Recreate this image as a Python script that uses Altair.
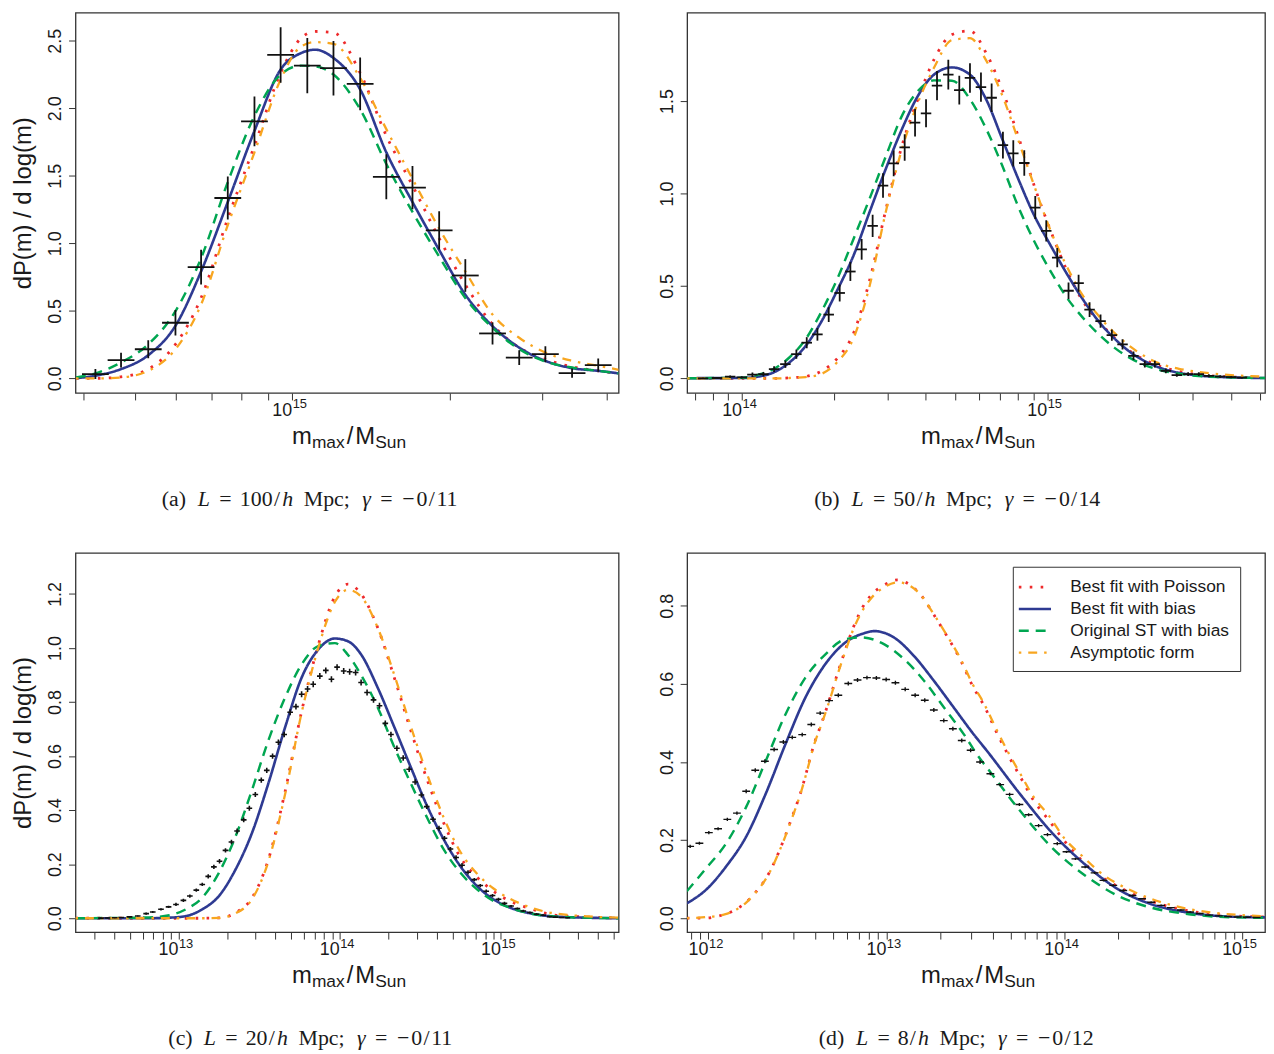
import altair as alt
import pandas as pd

SANS = "Liberation Sans"
SERIF = "Liberation Serif"
TXT = "#1a1a1a"
AXC = "#333333"
INK = "#111111"

SERIES = ["Best fit with Poisson", "Best fit with bias", "Original ST with bias", "Asymptotic form"]
COLORS = ["#ee2a2b", "#2e3a92", "#00a651", "#f8a620"]
DASHES = [[2.6, 8.4], [1, 0], [10, 7], [2.5, 7, 9, 7]]
WIDTHS = [2.8, 2.3, 2.5, 2.5]

# ---------------- panel (a): L = 100/h Mpc ----------------
a_grid = [14.587, 14.624, 14.673, 14.725, 14.777, 14.826, 14.877, 14.928, 14.978, 15.017, 15.044, 15.079,
          15.130, 15.180, 15.230, 15.281, 15.331, 15.383, 15.434, 15.484, 15.535, 15.585, 15.624]
a_poisson = [0.000, 0.000, 0.012, 0.069, 0.252, 0.596, 1.184, 1.723, 2.262, 2.520, 2.569, 2.561,
             2.262, 1.797, 1.429, 1.037, 0.694, 0.400, 0.228, 0.142, 0.086, 0.056, 0.037]
a_bias = [0.002, 0.020, 0.069, 0.172, 0.390, 0.792, 1.306, 1.833, 2.287, 2.409, 2.434, 2.373,
          2.140, 1.674, 1.306, 0.951, 0.620, 0.387, 0.228, 0.130, 0.076, 0.056, 0.037]
a_st = [0.007, 0.037, 0.118, 0.252, 0.498, 0.890, 1.453, 1.944, 2.250, 2.316, 2.311, 2.250,
        1.993, 1.588, 1.233, 0.902, 0.596, 0.375, 0.216, 0.125, 0.081, 0.056, 0.037]
a_asym = [0.000, 0.000, 0.007, 0.056, 0.216, 0.547, 1.135, 1.674, 2.213, 2.458, 2.490, 2.478,
          2.225, 1.846, 1.478, 1.110, 0.792, 0.473, 0.301, 0.191, 0.130, 0.093, 0.064]
a_pts_logm = [14.624, 14.673, 14.725, 14.777, 14.826, 14.877, 14.928, 14.978, 15.029, 15.079,
              15.130, 15.180, 15.230, 15.281, 15.331, 15.383, 15.434, 15.484, 15.535, 15.585]
a_pts_val = [0.032, 0.135, 0.216, 0.412, 0.824, 1.336, 1.904, 2.395, 2.316, 2.297,
             2.181, 1.493, 1.412, 1.096, 0.762, 0.333, 0.154, 0.179, 0.039, 0.098]
a_pts_err = [0.037, 0.055, 0.067, 0.094, 0.129, 0.159, 0.184, 0.206, 0.205, 0.202,
             0.196, 0.167, 0.160, 0.142, 0.121, 0.082, 0.055, 0.060, 0.035, 0.049]

# ---------------- panel (b): L = 50/h Mpc ----------------
b_grid = [13.820, 14.000, 14.050, 14.103, 14.155, 14.208, 14.261, 14.313, 14.366, 14.418, 14.471, 14.524,
          14.576, 14.629, 14.688, 14.747, 14.800, 14.853, 14.905, 14.958, 15.011, 15.063, 15.116, 15.168,
          15.221, 15.274, 15.326, 15.379, 15.432, 15.497, 15.563, 15.714]
b_poisson = [0.000, 0.000, 0.000, 0.000, 0.003, 0.010, 0.040, 0.110, 0.247, 0.530, 0.910, 1.258,
             1.509, 1.724, 1.860, 1.880, 1.760, 1.560, 1.310, 1.040, 0.800, 0.590, 0.420, 0.310,
             0.220, 0.145, 0.095, 0.060, 0.038, 0.020, 0.011, 0.003]
b_bias = [0.001, 0.002, 0.009, 0.032, 0.086, 0.175, 0.310, 0.480, 0.667, 0.900, 1.133, 1.348,
          1.527, 1.643, 1.682, 1.643, 1.509, 1.294, 1.080, 0.880, 0.720, 0.570, 0.430, 0.310,
          0.215, 0.140, 0.088, 0.052, 0.030, 0.015, 0.008, 0.002]
b_st = [0.001, 0.003, 0.018, 0.050, 0.113, 0.211, 0.363, 0.542, 0.757, 0.972, 1.200, 1.420,
        1.554, 1.612, 1.610, 1.510, 1.350, 1.150, 0.930, 0.740, 0.580, 0.440, 0.330, 0.240,
        0.165, 0.108, 0.068, 0.041, 0.025, 0.013, 0.007, 0.002]
b_asym = [0.000, 0.000, 0.000, 0.000, 0.002, 0.007, 0.025, 0.090, 0.220, 0.500, 0.900, 1.240,
          1.490, 1.680, 1.830, 1.840, 1.720, 1.530, 1.290, 1.040, 0.800, 0.610, 0.450, 0.340,
          0.245, 0.170, 0.114, 0.074, 0.052, 0.035, 0.023, 0.009]
b_pts_logm = [13.872, 13.918, 13.961, 13.999, 14.034, 14.070, 14.105, 14.142, 14.178, 14.212,
              14.247, 14.284, 14.320, 14.355, 14.392, 14.428, 14.462, 14.497, 14.533, 14.567,
              14.603, 14.639, 14.676, 14.712, 14.747, 14.783, 14.818, 14.855, 14.889, 14.925,
              14.961, 14.997, 15.033, 15.070, 15.103, 15.139, 15.175, 15.212, 15.247, 15.283,
              15.320, 15.353, 15.389, 15.425, 15.462, 15.497, 15.530, 15.567, 15.603, 15.638]
b_pts_val = [0.000, 0.002, 0.009, 0.005, 0.020, 0.023, 0.050, 0.077, 0.131, 0.193,
             0.238, 0.345, 0.462, 0.578, 0.698, 0.825, 1.043, 1.163, 1.249, 1.384,
             1.434, 1.584, 1.643, 1.559, 1.625, 1.575, 1.518, 1.262, 1.217, 1.165,
             0.924, 0.798, 0.653, 0.474, 0.515, 0.372, 0.310, 0.234, 0.184, 0.122,
             0.077, 0.077, 0.041, 0.018, 0.023, 0.023, 0.014, 0.010, 0.007, 0.004]
b_pts_err = [0.004, 0.005, 0.007, 0.006, 0.012, 0.012, 0.016, 0.020, 0.025, 0.030,
             0.034, 0.040, 0.046, 0.051, 0.056, 0.060, 0.066, 0.070, 0.072, 0.075,
             0.076, 0.079, 0.080, 0.078, 0.080, 0.079, 0.077, 0.072, 0.071, 0.069,
             0.062, 0.058, 0.052, 0.044, 0.046, 0.040, 0.036, 0.031, 0.028, 0.023,
             0.018, 0.018, 0.013, 0.009, 0.010, 0.010, 0.008, 0.007, 0.006, 0.004]

# ---------------- panel (c): L = 20/h Mpc ----------------
c_grid = [12.362, 12.820, 12.944, 13.046, 13.148, 13.251, 13.354, 13.456, 13.558, 13.662, 13.764, 13.867,
          13.970, 14.051, 14.133, 14.236, 14.339, 14.441, 14.544, 14.647, 14.749, 14.852, 14.954, 15.057,
          15.160, 15.344, 15.730]
c_poisson = [0.000, 0.000, 0.000, 0.000, 0.000, 0.001, 0.020, 0.075, 0.217, 0.470, 0.765, 1.010,
             1.190, 1.236, 1.200, 1.075, 0.890, 0.695, 0.510, 0.350, 0.225, 0.152, 0.100, 0.063,
             0.040, 0.011, 0.001]
c_bias = [0.000, 0.000, 0.002, 0.008, 0.033, 0.082, 0.180, 0.315, 0.499, 0.707, 0.890, 0.994,
          1.035, 1.025, 0.976, 0.853, 0.707, 0.559, 0.413, 0.290, 0.192, 0.119, 0.070, 0.039,
          0.021, 0.006, 0.000]
c_st = [0.000, 0.003, 0.011, 0.033, 0.076, 0.168, 0.302, 0.474, 0.658, 0.817, 0.939, 1.007,
        1.018, 0.975, 0.900, 0.780, 0.633, 0.499, 0.370, 0.253, 0.168, 0.107, 0.064, 0.039,
        0.021, 0.006, 0.000]
c_asym = [0.000, 0.000, 0.000, 0.000, 0.000, 0.001, 0.018, 0.070, 0.210, 0.460, 0.760, 1.000,
          1.170, 1.215, 1.190, 1.075, 0.900, 0.710, 0.530, 0.370, 0.245, 0.165, 0.110, 0.072,
          0.045, 0.017, 0.002]
c_pts_logm = [12.520, 12.560, 12.605, 12.646, 12.697, 12.748, 12.800, 12.841, 12.892, 12.939,
              12.985, 13.031, 13.071, 13.111, 13.148, 13.185, 13.220, 13.255, 13.292, 13.329,
              13.364, 13.405, 13.440, 13.477, 13.514, 13.548, 13.584, 13.620, 13.656, 13.693,
              13.729, 13.764, 13.801, 13.836, 13.877, 13.914, 13.949, 13.984, 14.025, 14.062,
              14.099, 14.133, 14.170, 14.210, 14.247, 14.283, 14.318, 14.355, 14.394, 14.431,
              14.468, 14.507, 14.540, 14.579, 14.616, 14.650, 14.687, 14.722, 14.759, 14.796,
              14.835, 14.872, 14.909, 14.948, 14.985, 15.022, 15.063, 15.102, 15.139, 15.180,
              15.221, 15.262, 15.303, 15.338, 15.375, 15.412]
c_pts_val = [0.0005, 0.001, 0.002, 0.003, 0.005, 0.008, 0.017, 0.023, 0.033, 0.042,
             0.051, 0.066, 0.082, 0.104, 0.125, 0.155, 0.190, 0.211, 0.251, 0.282,
             0.323, 0.364, 0.407, 0.458, 0.511, 0.547, 0.600, 0.651, 0.680, 0.762,
             0.783, 0.829, 0.848, 0.866, 0.896, 0.917, 0.884, 0.929, 0.915, 0.912,
             0.909, 0.872, 0.835, 0.808, 0.786, 0.721, 0.680, 0.629, 0.593, 0.551,
             0.504, 0.456, 0.413, 0.366, 0.333, 0.296, 0.256, 0.225, 0.196, 0.170,
             0.143, 0.121, 0.100, 0.084, 0.070, 0.055, 0.045, 0.036, 0.027, 0.021,
             0.015, 0.011, 0.006, 0.004, 0.003, 0.002]
c_pts_err = [0.002, 0.002, 0.002, 0.002, 0.002, 0.002, 0.004, 0.004, 0.004, 0.004,
             0.006, 0.006, 0.006, 0.006, 0.006, 0.008, 0.008, 0.008, 0.008, 0.008,
             0.009, 0.009, 0.009, 0.009, 0.010, 0.010, 0.010, 0.010, 0.010, 0.011,
             0.011, 0.011, 0.011, 0.011, 0.011, 0.011, 0.011, 0.011, 0.011, 0.011,
             0.011, 0.011, 0.011, 0.011, 0.011, 0.011, 0.010, 0.010, 0.010, 0.010,
             0.010, 0.009, 0.009, 0.009, 0.009, 0.008, 0.008, 0.008, 0.008, 0.008,
             0.006, 0.006, 0.006, 0.006, 0.006, 0.006, 0.004, 0.004, 0.004, 0.004,
             0.004, 0.004, 0.002, 0.002, 0.002, 0.002]

# ---------------- panel (d): L = 8/h Mpc ----------------
d_poisson_logm = [11.878, 11.962, 12.091, 12.156, 12.212, 12.258, 12.304, 12.341, 12.397, 12.434, 12.471,
                  12.517, 12.554, 12.591, 12.638, 12.684, 12.721, 12.767, 12.813, 12.869, 12.916, 12.989,
                  13.063, 13.137, 13.193, 13.267, 13.341, 13.415, 13.489, 13.545, 13.628, 13.693, 13.758,
                  13.823, 13.915, 13.989, 14.063, 14.147, 14.267, 14.378, 14.563, 14.711, 14.896, 15.129]
d_poisson = [0.000, 0.000, 0.010, 0.023, 0.041, 0.063, 0.089, 0.116, 0.171, 0.214, 0.260,
             0.320, 0.379, 0.442, 0.502, 0.565, 0.620, 0.684, 0.743, 0.798, 0.828, 0.853,
             0.866, 0.852, 0.828, 0.777, 0.722, 0.663, 0.591, 0.548, 0.468, 0.411, 0.358,
             0.305, 0.250, 0.205, 0.165, 0.127, 0.090, 0.064, 0.033, 0.018, 0.008, 0.003]
d_bias_logm = [11.878, 11.989, 12.100, 12.212, 12.323, 12.434, 12.545, 12.656, 12.767, 12.878, 12.934,
               13.045, 13.156, 13.267, 13.378, 13.489, 13.563, 13.748, 13.933, 14.119, 14.304, 14.489,
               14.674, 14.859, 15.129]
d_bias = [0.038, 0.074, 0.133, 0.209, 0.320, 0.447, 0.565, 0.650, 0.705, 0.730, 0.735,
          0.718, 0.671, 0.608, 0.540, 0.472, 0.430, 0.320, 0.218, 0.137, 0.074, 0.036,
          0.016, 0.006, 0.002]
d_st_logm = [11.878, 11.989, 12.100, 12.212, 12.323, 12.434, 12.545, 12.656, 12.767, 12.860, 12.989,
             13.100, 13.212, 13.323, 13.434, 13.527, 13.563, 13.748, 13.933, 14.119, 14.304, 14.489,
             14.674, 14.859, 15.129]
d_st = [0.069, 0.129, 0.192, 0.285, 0.404, 0.523, 0.616, 0.675, 0.714, 0.719, 0.701,
        0.663, 0.608, 0.540, 0.472, 0.408, 0.387, 0.277, 0.180, 0.109, 0.057, 0.027,
        0.012, 0.004, 0.001]
d_asym_logm = [11.878, 11.962, 12.091, 12.156, 12.212, 12.258, 12.304, 12.341, 12.397, 12.434, 12.471,
               12.517, 12.554, 12.591, 12.638, 12.684, 12.721, 12.767, 12.813, 12.869, 12.916, 12.989,
               13.063, 13.137, 13.193, 13.267, 13.341, 13.415, 13.489, 13.545, 13.628, 13.693, 13.758,
               13.823, 13.915, 14.000, 14.100, 14.200, 14.400, 14.600, 14.800, 15.000, 15.129]
d_asym = [0.000, 0.002, 0.010, 0.022, 0.040, 0.062, 0.088, 0.115, 0.170, 0.212, 0.258,
          0.318, 0.377, 0.440, 0.500, 0.562, 0.617, 0.680, 0.738, 0.790, 0.820, 0.848,
          0.860, 0.850, 0.828, 0.778, 0.724, 0.666, 0.596, 0.553, 0.475, 0.418, 0.366,
          0.314, 0.262, 0.205, 0.160, 0.118, 0.066, 0.034, 0.016, 0.008, 0.005]
d_pts_logm = [11.897, 11.949, 12.002, 12.054, 12.106, 12.160, 12.212, 12.263, 12.317, 12.369,
              12.421, 12.471, 12.527, 12.578, 12.628, 12.678, 12.730, 12.786, 12.838, 12.891,
              12.944, 12.999, 13.051, 13.106, 13.162, 13.216, 13.267, 13.323, 13.374, 13.424,
              13.474, 13.527, 13.585, 13.640, 13.693, 13.748, 13.800, 13.856, 13.906, 13.961,
              14.013, 14.063, 14.118, 14.171, 14.221, 14.276, 14.332, 14.384, 14.438, 14.489,
              14.545, 14.600, 14.656, 14.708, 14.762, 14.814, 14.869, 14.921, 14.975, 15.027,
              15.082]
d_pts_val = [0.184, 0.192, 0.219, 0.229, 0.253, 0.269, 0.325, 0.379, 0.402, 0.432,
             0.451, 0.463, 0.470, 0.496, 0.525, 0.557, 0.571, 0.601, 0.610, 0.616,
             0.615, 0.611, 0.603, 0.586, 0.571, 0.558, 0.533, 0.506, 0.485, 0.455,
             0.430, 0.400, 0.370, 0.342, 0.317, 0.291, 0.265, 0.237, 0.214, 0.191,
             0.170, 0.152, 0.131, 0.116, 0.097, 0.084, 0.071, 0.058, 0.050, 0.041,
             0.033, 0.027, 0.021, 0.016, 0.012, 0.008, 0.006, 0.004, 0.003, 0.0025,
             0.002]
d_pts_err = [0.004, 0.004, 0.004, 0.004, 0.004, 0.004, 0.005, 0.005, 0.005, 0.005,
             0.005, 0.005, 0.005, 0.005, 0.005, 0.005, 0.005, 0.005, 0.005, 0.005,
             0.005, 0.005, 0.005, 0.005, 0.005, 0.005, 0.005, 0.005, 0.005, 0.005,
             0.005, 0.005, 0.004, 0.004, 0.004, 0.004, 0.004, 0.004, 0.004, 0.004,
             0.003, 0.003, 0.003, 0.003, 0.003, 0.003, 0.003, 0.003, 0.002, 0.002,
             0.002, 0.002, 0.002, 0.002, 0.002, 0.001, 0.001, 0.001, 0.001, 0.001,
             0.001]

# tick positions (masses) and labelled decades
a_ticks = [k * 1e14 for k in range(4, 10)] + [1e15, 2e15, 3e15, 4e15]
b_ticks = [k * 1e13 for k in range(7, 10)] + [k * 1e14 for k in range(1, 10)] + [k * 1e15 for k in range(1, 6)]
c_ticks = ([k * 1e12 for k in range(3, 10)] + [k * 1e13 for k in range(1, 10)] +
           [k * 1e14 for k in range(1, 10)] + [k * 1e15 for k in range(1, 6)])
d_ticks = ([8e11, 9e11] + [k * 1e12 for k in range(1, 10)] + [k * 1e13 for k in range(1, 10)] +
           [k * 1e14 for k in range(1, 10)] + [1e15])

PANELS = [
    dict(curves=[(a_grid, a_poisson), (a_grid, a_bias), (a_grid, a_st), (a_grid, a_asym)],
         pts=(a_pts_logm, a_pts_val, a_pts_err), half=0.0256, ptw=1.8,
         xdom=(14.586, 15.624), ydom=(-0.108, 2.708), yticks=[0, 0.5, 1.0, 1.5, 2.0, 2.5],
         ticks=a_ticks, exps=[15], W=547, H=383, ytitle=True, legend=False,
         cap=("(a)", "100", "11"), capx=235),
    dict(curves=[(b_grid, b_poisson), (b_grid, b_bias), (b_grid, b_st), (b_grid, b_asym)],
         pts=(b_pts_logm, b_pts_val, b_pts_err), half=0.0172, ptw=1.8,
         xdom=(13.820, 15.714), ydom=(-0.079, 1.978), yticks=[0, 0.5, 1.0, 1.5],
         ticks=b_ticks, exps=[14, 15], W=582, H=383, ytitle=False, legend=False,
         cap=("(b)", "50", "14"), capx=271),
    dict(curves=[(c_grid, c_poisson), (c_grid, c_bias), (c_grid, c_st), (c_grid, c_asym)],
         pts=(c_pts_logm, c_pts_val, c_pts_err), half=0.0175, ptw=1.6,
         xdom=(12.362, 15.730), ydom=(-0.0514, 1.352), yticks=[0, 0.2, 0.4, 0.6, 0.8, 1.0, 1.2],
         ticks=c_ticks, exps=[13, 14, 15], W=547, H=382, ytitle=True, legend=False,
         cap=("(c)", "20", "11"), capx=236),
    dict(curves=[(d_poisson_logm, d_poisson), (d_bias_logm, d_bias), (d_st_logm, d_st), (d_asym_logm, d_asym)],
         pts=(d_pts_logm, d_pts_val, d_pts_err), half=0.022, ptw=1.4,
         xdom=(11.880, 15.129), ydom=(-0.0356, 0.9354), yticks=[0, 0.2, 0.4, 0.6, 0.8],
         ticks=d_ticks, exps=[12, 13, 14, 15], W=582, H=382, ytitle=False, legend=True,
         cap=("(d)", "8", "12"), capx=270),
]

DUMMY = pd.DataFrame({"k": [0]})


def text_piece(txt, x, y, size, font=SANS, style="normal", align="left"):
    return alt.Chart(DUMMY).mark_text(
        text=txt, font=font, fontSize=size, fontStyle=style, align=align,
        baseline="alphabetic", color=TXT
    ).encode(x=alt.value(x), y=alt.value(y))


# approximate advance widths (em) of the caption tokens, Computer-Modern-like
def caption_tokens(lab, lnum, gnum):
    lab_w = {"(a)": 1.278, "(b)": 1.334, "(c)": 1.222, "(d)": 1.334}[lab]
    return [
        (lab, "normal", lab_w), (None, None, 0.36),
        ("L", "italic", 0.681), (None, None, 0.26), ("=", "normal", 0.72), (None, None, 0.26),
        (lnum, "normal", 0.5 * len(lnum)), ("/", "normal", 0.36), ("h", "italic", 0.576), (None, None, 0.36),
        ("Mpc;", "normal", 2.195), (None, None, 0.42),
        ("\u03b3", "italic", 0.518), (None, None, 0.26), ("=", "normal", 0.72), (None, None, 0.26),
        ("\u2212", "normal", 0.72), ("0", "normal", 0.5), ("/", "normal", 0.36), (gnum, "normal", 1.0),
    ]


def make_panel(p):
    W, H = p["W"], p["H"]
    xs = alt.Scale(type="log", domain=[10 ** p["xdom"][0], 10 ** p["xdom"][1]], nice=False)
    ys = alt.Scale(domain=list(p["ydom"]), nice=False, zero=False)
    xaxis = alt.Axis(values=p["ticks"], labels=False, ticks=True, tickSize=7, tickColor=AXC,
                     tickWidth=1, domain=False, grid=False)
    yaxis = alt.Axis(values=p["yticks"], format=".1f", labelAngle=270, labelAlign="center",
                     labelBaseline="bottom", labelFont=SANS, labelFontSize=18, labelColor=TXT,
                     labelPadding=4, tickSize=7, tickColor=AXC, tickWidth=1, domain=False, grid=False,
                     titleFont=SANS, titleFontSize=24, titleFontWeight="normal", titleColor=TXT,
                     titlePadding=11)
    ytitle = "dP(m) / d log(m)" if p["ytitle"] else None

    def X(f):
        return alt.X(f, scale=xs, axis=xaxis, title=None)

    def Y(f):
        return alt.Y(f, scale=ys, axis=yaxis, title=ytitle)

    rows = []
    for name, (lm, vals) in zip(SERIES, p["curves"]):
        for l, v in zip(lm, vals):
            rows.append({"series": name, "m": 10 ** l, "v": v})
    cdf = pd.DataFrame(rows)

    if p["legend"]:
        leg = alt.Legend(title=None, orient="none", legendX=328, legendY=14, direction="vertical",
                         strokeColor=AXC, fillColor="white", padding=10, cornerRadius=0,
                         labelFont=SANS, labelFontSize=17.5, labelColor=TXT, labelLimit=400,
                         symbolType="M-1.8,0H1.8", symbolStrokeWidth=2.5, symbolSize=324,
                         symbolOffset=1.75, labelOffset=25, rowPadding=3)
    else:
        leg = None

    lines = alt.Chart(cdf).mark_line(clip=True, interpolate="monotone").encode(
        x=X("m:Q"), y=Y("v:Q"),
        color=alt.Color("series:N", scale=alt.Scale(domain=SERIES, range=COLORS), legend=leg),
        strokeDash=alt.StrokeDash("series:N", scale=alt.Scale(domain=SERIES, range=DASHES), legend=leg),
        strokeWidth=alt.StrokeWidth("series:N", scale=alt.Scale(domain=SERIES, range=WIDTHS), legend=None),
    )

    lm, vv, ee = p["pts"]
    h = p["half"]
    pdf = pd.DataFrame({
        "m": [10 ** l for l in lm],
        "mlo": [10 ** (l - h) for l in lm],
        "mhi": [10 ** (l + h) for l in lm],
        "v": vv,
        "vlo": [v - e for v, e in zip(vv, ee)],
        "vhi": [v + e for v, e in zip(vv, ee)],
    })
    hbar = alt.Chart(pdf).mark_rule(clip=True, color=INK, strokeWidth=p["ptw"]).encode(
        x=X("mlo:Q"), x2="mhi:Q", y=Y("v:Q"))
    vbar = alt.Chart(pdf).mark_rule(clip=True, color=INK, strokeWidth=p["ptw"]).encode(
        x=X("m:Q"), y=Y("vlo:Q"), y2="vhi:Q")

    ldf = pd.DataFrame({"m": [10.0 ** e for e in p["exps"]], "e": [str(e) for e in p["exps"]]})
    ten = alt.Chart(ldf).mark_text(text="10", align="right", baseline="alphabetic", font=SANS,
                                   fontSize=18, color=TXT, dx=0).encode(
        x=X("m:Q"), y=alt.value(H + 23.5))
    expo = alt.Chart(ldf).mark_text(align="left", baseline="alphabetic", font=SANS,
                                    fontSize=13, color=TXT, dx=0.5).encode(
        x=X("m:Q"), y=alt.value(H + 15.5), text="e:N")

    layers = [lines, hbar, vbar, ten, expo]

    # x-axis title  m_max / M_Sun
    fm, fs = 24, 17.5
    parts = [("m", fm, 0.833 * fm, 0), ("max", fs, 1.889 * fs + 2, 4),
             ("/", fm, 0.278 * fm + 2, 0), ("M", fm, 0.833 * fm, 0), ("Sun", fs, 1.779 * fs, 4)]
    total = sum(pt[2] for pt in parts)
    x0 = W / 2 - total / 2 + 2
    for txt, size, adv, drop in parts:
        layers.append(text_piece(txt, x0, H + 51 + drop, size))
        x0 += adv

    # caption below the panel
    em = 22.6
    toks = caption_tokens(*p["cap"])
    total = sum(t[2] for t in toks) * em
    x0 = p["capx"] - total / 2
    for txt, style, w in toks:
        if txt is not None:
            layers.append(text_piece(txt, x0 + w * em / 2, H + 114, 22, font=SERIF, style=style,
                                     align="center"))
        x0 += w * em

    return alt.layer(*layers).properties(width=W, height=H)


charts = [make_panel(p) for p in PANELS]

chart = alt.concat(
    *charts, columns=2, spacing={"row": 161, "column": 69}, bounds="flush"
).resolve_scale(
    color="independent", strokeDash="independent", strokeWidth="independent"
).properties(
    padding={"left": 3, "top": 0, "right": 0, "bottom": 0}
).configure_view(stroke=AXC, strokeWidth=1.3)

chart.save("out.html", embed_options={"renderer": "svg", "actions": False})
